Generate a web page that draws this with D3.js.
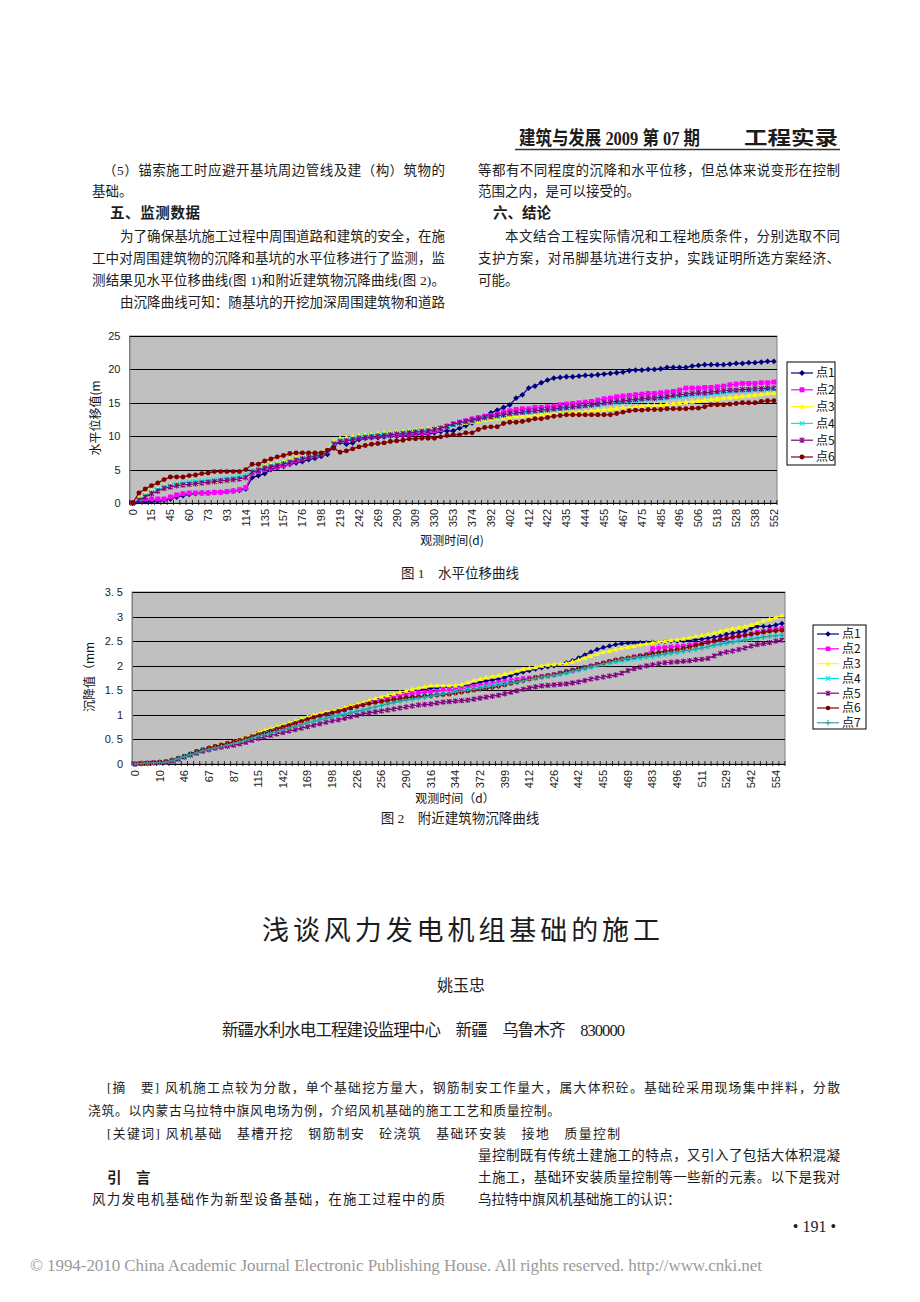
<!DOCTYPE html>
<html><head><meta charset="utf-8">
<script src="https://cdn.jsdelivr.net/npm/d3@7"></script>
<style>body{margin:0;background:#fff;}svg{display:block;}</style>
</head><body>
<svg id="page" width="920" height="1302"></svg>
<script>
// ---------------- DATA: Figure 1 (水平位移曲线) ----------------
const names1 = ["点1","点2","点3","点4","点5","点6"];
const xTicks1 = ["0","15","45","60","73","93","114","135","157","176","198","219","242","269","290","309","330","353","374","392","402","412","422","435","444","455","467","475","485","496","506","518","528","538","552"];
const yTicks1 = [0,5,10,15,20,25];
const f1_p1 = [0,0.2,0.2,0.2,0.3,0.4,0.6,0.9,1.1,1.3, 1.4,1.5,1.5,1.6,1.6,1.7,1.8,1.9,2.1,3.8, 4.1,4.4,5.0,5.3,5.5,5.8,6.0,6.2,6.5,6.7, 7.0,7.3,8.6,9.1,8.8,9.0,9.5,9.7,9.8,9.8, 9.9,10.0,10.0,10.1,10.2,10.2,10.3,10.3,10.5,10.7, 10.8,10.8,11.2,11.6,12.0,12.4,12.9,13.5,13.9,14.3, 14.7,15.7,16.2,17.2,17.5,18.0,18.4,18.7,18.8,18.9, 18.9,19.0,19.1,19.1,19.2,19.3,19.4,19.5,19.6,19.8, 19.9,19.9,20.0,20.0,20.1,20.3,20.3,20.3,20.3,20.5, 20.6,20.7,20.7,20.7,20.7,20.8,20.9,20.9,21.0,21.0, 21.1,21.2,21.2];
const f1_p2 = [0,0.5,0.6,0.6,0.6,0.6,0.9,1.2,1.4,1.5, 1.5,1.5,1.5,1.6,1.6,1.7,1.8,2.0,2.3,4.4, 4.7,5.0,5.2,5.4,5.6,5.9,6.3,6.6,6.9,7.1, 7.4,7.8,9.0,9.4,9.4,9.6,9.8,9.9,10.0,10.0, 10.1,10.1,10.2,10.3,10.3,10.4,10.5,10.6,10.8,11.0, 11.4,11.8,12.1,12.3,12.6,12.8,13.0,13.1,13.3,13.6, 13.8,14.0,14.1,14.1,14.3,14.3,14.4,14.5,14.7,14.8, 14.9,15.0,15.1,15.2,15.4,15.6,15.7,15.9,16.0,16.1, 16.2,16.3,16.4,16.4,16.5,16.6,16.7,16.9,17.2,17.2, 17.2,17.3,17.3,17.4,17.5,17.7,17.8,17.9,17.9,17.9, 18.0,18.0,18.1];
const f1_p3 = [0,0.8,1.3,1.8,2.2,2.5,2.7,2.8,2.8,2.9, 3.0,3.0,3.1,3.2,3.3,3.4,3.5,3.6,3.8,4.6, 5.3,5.6,5.8,6.0,6.2,6.5,6.8,7.0,7.2,7.4, 7.6,8.0,9.3,9.7,9.8,9.9,10.1,10.2,10.3,10.4, 10.5,10.5,10.6,10.7,10.8,10.9,11.0,11.1,11.2,11.3, 11.5,11.6,11.8,12.0,12.2,12.3,12.5,12.6,12.7,12.8, 12.9,13.0,13.0,13.1,13.1,13.2,13.3,13.4,13.4,13.5, 13.6,13.6,13.7,13.8,13.9,14.0,14.1,14.2,14.3,14.3, 14.4,14.5,14.6,14.6,14.7,14.8,14.9,15.0,15.1,15.2, 15.3,15.4,15.5,15.6,15.7,15.8,15.9,16.0,16.1,16.2, 16.3,16.4,16.5];
const f1_p4 = [0,0.6,1.1,1.6,2.0,2.4,2.6,2.8,3.0,3.1, 3.2,3.3,3.4,3.5,3.6,3.7,3.8,4.0,4.2,4.8, 5.1,5.4,5.6,5.8,6.0,6.2,6.5,6.7,6.9,7.1, 7.3,7.8,9.0,9.4,9.5,9.7,9.9,10.0,10.1,10.2, 10.3,10.3,10.4,10.5,10.6,10.7,10.8,10.9,11.0,11.2, 11.4,11.6,11.9,12.1,12.3,12.5,12.7,12.8,12.9,13.1, 13.3,13.4,13.5,13.6,13.7,13.8,13.9,14.0,14.1,14.2, 14.3,14.4,14.5,14.6,14.7,14.8,14.9,15.0,15.1,15.2, 15.3,15.4,15.4,15.5,15.6,15.7,15.8,15.9,16.0,16.1, 16.2,16.2,16.3,16.4,16.5,16.6,16.7,16.7,16.8,16.9, 16.9,17.0,17.0];
const f1_p5 = [0,0.4,0.9,1.4,1.8,2.2,2.4,2.6,2.7,2.8, 2.9,3.0,3.1,3.2,3.3,3.4,3.5,3.6,3.8,4.6, 4.9,5.2,5.4,5.6,5.8,6.1,6.4,6.6,6.8,7.0, 7.2,7.6,8.8,9.2,9.3,9.5,9.7,9.8,9.9,10.0, 10.1,10.2,10.3,10.4,10.5,10.6,10.7,10.8,11.0,11.2, 11.5,11.8,12.0,12.2,12.4,12.6,12.8,12.9,13.1,13.2, 13.4,13.5,13.6,13.7,13.8,13.9,14.0,14.1,14.2,14.3, 14.4,14.5,14.6,14.7,14.8,15.0,15.1,15.2,15.3,15.4, 15.5,15.6,15.7,15.7,15.8,15.9,16.1,16.2,16.3,16.4, 16.5,16.5,16.6,16.7,16.8,16.9,16.9,17.0,17.0,17.1, 17.1,17.2,17.2];
const f1_p6 = [0,1.5,2.1,2.6,3.0,3.5,3.9,3.9,3.9,4.1, 4.2,4.4,4.5,4.7,4.7,4.7,4.7,4.7,5.0,5.8, 5.8,6.3,6.6,6.9,7.1,7.4,7.5,7.5,7.5,7.5, 7.5,7.9,8.2,7.6,7.8,8.1,8.4,8.6,8.8,8.9, 9.0,9.2,9.3,9.4,9.6,9.6,9.7,9.7,9.7,9.9, 10.1,10.2,10.2,10.5,10.5,11.0,11.3,11.4,11.4,11.9, 12.1,12.1,12.2,12.4,12.6,12.6,12.8,13.0,13.1,13.2, 13.2,13.2,13.2,13.2,13.2,13.2,13.2,13.4,13.6,13.8, 13.9,13.9,14.0,14.0,14.0,14.1,14.1,14.1,14.1,14.2, 14.2,14.4,14.7,14.7,14.7,14.8,14.9,15.0,15.0,15.0, 15.2,15.3,15.3];

// ---------------- DATA: Figure 2 (附近建筑物沉降曲线) ----------------
const names2 = ["点1","点2","点3","点4","点5","点6","点7"];
const xTicks2 = ["0","10","46","67","87","115","142","169","198","226","256","290","316","344","372","399","412","426","442","455","469","483","496","511","529","542","554"];
const yTicks2 = [0,0.5,1,1.5,2,2.5,3,3.5];
const yTickText2 = ["0","0. 5","1","1. 5","2","2. 5","3","3. 5"];
const f2_p1 = [0,0.01,0.02,0.03,0.03,0.05,0.08,0.12,0.16,0.21, 0.26,0.3,0.33,0.36,0.39,0.42,0.45,0.49,0.54,0.59, 0.64,0.67,0.7,0.74,0.78,0.82,0.86,0.9,0.93,0.97, 1.0,1.03,1.06,1.09,1.13,1.17,1.2,1.24,1.28,1.32, 1.35,1.38,1.41,1.44,1.47,1.49,1.51,1.52,1.54,1.55, 1.56,1.56,1.57,1.58,1.6,1.63,1.66,1.69,1.71,1.73, 1.76,1.8,1.84,1.87,1.9,1.93,1.96,1.98,2.0,2.02, 2.06,2.1,2.16,2.22,2.28,2.33,2.37,2.4,2.43,2.45, 2.46,2.46,2.47,2.47,2.48,2.48,2.49,2.5,2.5,2.51, 2.52,2.53,2.54,2.56,2.58,2.6,2.64,2.66,2.68,2.7, 2.76,2.8,2.8,2.8,2.83,2.86];
const f2_p2 = [0,0.01,0.02,0.03,0.03,0.04,0.07,0.11,0.15,0.2, 0.25,0.29,0.32,0.35,0.38,0.41,0.44,0.47,0.51,0.55, 0.59,0.62,0.66,0.7,0.74,0.78,0.82,0.86,0.9,0.94, 0.97,1.0,1.03,1.06,1.1,1.14,1.18,1.21,1.25,1.28, 1.31,1.34,1.37,1.4,1.42,1.44,1.45,1.46,1.47,1.48, 1.5,1.5,1.52,1.53,1.55,1.58,1.6,1.62,1.64,1.66, 1.68,1.7,1.72,1.74,1.75,1.76,1.78,1.8,1.82,1.85, 1.88,1.9,1.93,1.96,1.99,2.02,2.05,2.08,2.1,2.13, 2.15,2.18,2.2,2.22,2.35,2.36,2.37,2.38,2.39,2.4, 2.42,2.44,2.46,2.48,2.5,2.52,2.55,2.58,2.6,2.62, 2.65,2.68,2.7,2.72,2.74,2.76];
const f2_p3 = [0,0.01,0.02,0.03,0.04,0.05,0.08,0.12,0.17,0.22, 0.27,0.3,0.34,0.37,0.4,0.43,0.46,0.5,0.55,0.6, 0.65,0.69,0.72,0.76,0.8,0.84,0.88,0.92,0.96,1.0, 1.03,1.06,1.08,1.11,1.15,1.19,1.22,1.26,1.3,1.34, 1.37,1.4,1.43,1.46,1.49,1.52,1.55,1.57,1.6,1.6, 1.6,1.6,1.6,1.62,1.66,1.7,1.73,1.76,1.78,1.8, 1.83,1.86,1.9,1.93,1.95,1.97,2.0,2.02,2.03,2.04, 2.05,2.08,2.12,2.16,2.2,2.24,2.28,2.3,2.33,2.36, 2.38,2.4,2.43,2.45,2.47,2.49,2.5,2.52,2.53,2.55, 2.57,2.6,2.62,2.64,2.67,2.7,2.73,2.76,2.78,2.8, 2.83,2.87,2.92,2.95,2.98,3.02];
const f2_p4 = [0,0.01,0.02,0.02,0.03,0.04,0.07,0.11,0.15,0.2, 0.24,0.28,0.31,0.34,0.37,0.4,0.43,0.46,0.5,0.54, 0.58,0.61,0.64,0.68,0.71,0.75,0.78,0.82,0.85,0.88, 0.91,0.94,0.97,1.0,1.02,1.05,1.07,1.1,1.13,1.16, 1.2,1.23,1.26,1.29,1.32,1.34,1.36,1.38,1.4,1.42, 1.44,1.45,1.47,1.49,1.51,1.53,1.56,1.58,1.6,1.62, 1.64,1.66,1.68,1.7,1.72,1.74,1.76,1.78,1.8,1.82, 1.85,1.88,1.91,1.94,1.97,2.0,2.03,2.05,2.07,2.09, 2.11,2.13,2.15,2.17,2.19,2.21,2.23,2.25,2.27,2.29, 2.31,2.33,2.36,2.38,2.41,2.44,2.47,2.49,2.51,2.53, 2.55,2.57,2.59,2.6,2.61,2.62];
const f2_p5 = [0,0.01,0.01,0.02,0.03,0.04,0.06,0.1,0.14,0.18, 0.22,0.26,0.29,0.32,0.34,0.36,0.38,0.41,0.44,0.48, 0.52,0.55,0.58,0.61,0.64,0.67,0.7,0.73,0.76,0.79, 0.82,0.85,0.88,0.9,0.93,0.96,0.99,1.02,1.04,1.06, 1.08,1.1,1.12,1.14,1.16,1.18,1.2,1.21,1.22,1.24, 1.26,1.27,1.28,1.29,1.3,1.32,1.34,1.36,1.38,1.4, 1.43,1.46,1.49,1.52,1.55,1.57,1.59,1.6,1.61,1.62, 1.63,1.65,1.67,1.7,1.73,1.75,1.77,1.79,1.81,1.85, 1.9,1.94,1.97,2.0,2.02,2.04,2.06,2.07,2.08,2.09, 2.1,2.12,2.13,2.15,2.2,2.25,2.28,2.3,2.33,2.36, 2.4,2.43,2.45,2.47,2.5,2.52];
const f2_p6 = [0,0.01,0.02,0.03,0.04,0.05,0.08,0.12,0.16,0.21, 0.26,0.29,0.33,0.36,0.39,0.42,0.45,0.48,0.52,0.56, 0.6,0.63,0.67,0.71,0.75,0.79,0.83,0.87,0.91,0.95, 0.98,1.01,1.04,1.07,1.1,1.14,1.17,1.2,1.23,1.25, 1.27,1.29,1.31,1.33,1.35,1.36,1.37,1.38,1.39,1.4, 1.41,1.42,1.44,1.46,1.48,1.5,1.52,1.54,1.56,1.58, 1.61,1.64,1.67,1.7,1.73,1.76,1.78,1.8,1.82,1.85, 1.88,1.91,1.94,1.97,2.0,2.03,2.06,2.09,2.12,2.14, 2.16,2.18,2.2,2.22,2.25,2.27,2.29,2.31,2.33,2.35, 2.38,2.41,2.44,2.47,2.5,2.53,2.56,2.58,2.6,2.62, 2.64,2.66,2.68,2.7,2.71,2.72];
const f2_p7 = [0,0.01,0.02,0.02,0.03,0.04,0.07,0.11,0.15,0.19, 0.23,0.27,0.3,0.33,0.36,0.39,0.42,0.45,0.49,0.53, 0.57,0.6,0.63,0.66,0.7,0.73,0.77,0.8,0.84,0.87, 0.9,0.93,0.96,0.99,1.01,1.04,1.07,1.1,1.13,1.16, 1.19,1.22,1.25,1.28,1.3,1.32,1.34,1.36,1.38,1.4, 1.42,1.44,1.46,1.48,1.5,1.52,1.54,1.56,1.58,1.6, 1.62,1.64,1.66,1.69,1.72,1.75,1.77,1.79,1.81,1.83, 1.86,1.89,1.92,1.95,1.98,2.01,2.04,2.07,2.1,2.13, 2.15,2.17,2.18,2.19,2.2,2.22,2.24,2.26,2.28,2.3, 2.32,2.34,2.36,2.39,2.42,2.44,2.46,2.48,2.5,2.52, 2.54,2.56,2.58,2.6,2.61,2.62];

// ---------------- STYLE ----------------
const COLORS = ["#000080","#ff00ff","#ffff00","#00e8e8","#800080","#800000","#3f9a9a"];
const MARKS  = ["diamond","square","triangle","x","star","circle","plus"];
const BODY = "'Liberation Serif','Noto Sans CJK SC',serif";
const CJK = "'Noto Sans CJK SC','Liberation Sans',sans-serif";
const SANS = "'Liberation Sans','Noto Sans CJK SC',sans-serif";

const svg = d3.select("#page");

function T(x, y, s, o = {}) {
  const t = svg.append("text").attr("x", x).attr("y", y).text(s)
    .attr("font-size", o.size || 13.5)
    .attr("font-family", o.font || BODY)
    .attr("fill", o.fill || "#1c1c1c");
  if (o.len) t.attr("textLength", o.len).attr("lengthAdjust", o.adj || "spacing");
  if (o.anchor) t.attr("text-anchor", o.anchor);
  if (o.weight) t.attr("font-weight", o.weight);
  return t;
}

function markerPath(type, x, y, s) {
  switch (type) {
    case "diamond": return `M${x},${y-s}L${x+s},${y}L${x},${y+s}L${x-s},${y}Z`;
    case "square": { const h = s*0.85; return `M${x-h},${y-h}H${x+h}V${y+h}H${x-h}Z`; }
    case "triangle": return `M${x},${y-s}L${x+s},${y+s*0.75}L${x-s},${y+s*0.75}Z`;
    case "circle": { const r = s*0.85; return `M${x-r},${y}A${r},${r} 0 1,0 ${x+r},${y}A${r},${r} 0 1,0 ${x-r},${y}Z`; }
    case "x": { const h = s*0.8; return `M${x-h},${y-h}L${x+h},${y+h}M${x-h},${y+h}L${x+h},${y-h}`; }
    case "star": { const h = s*0.8; return `M${x-h},${y-h}L${x+h},${y+h}M${x-h},${y+h}L${x+h},${y-h}M${x},${y-s}V${y+s}`; }
    case "plus": return `M${x-s},${y}H${x+s}M${x},${y-s}V${y+s}`;
  }
}
const stroked = t => t === "x" || t === "star" || t === "plus";

function drawChart(c) {
  const g = svg.append("g");
  const n = c.series[0].length;
  const x = d3.scaleBand().domain(d3.range(n)).range([c.left, c.right]);
  const y = d3.scaleLinear().domain([0, c.yMax]).range([c.bottom, c.top]);
  const cx = i => x(i) + x.bandwidth() / 2;

  g.append("rect").attr("x", c.left).attr("y", c.top)
    .attr("width", c.right - c.left).attr("height", c.bottom - c.top)
    .attr("fill", "#c0c0c0").attr("stroke", "#808080").attr("stroke-width", 1);

  g.selectAll("line.grid").data(c.yTicks.filter(v => v > 0)).join("line")
    .attr("x1", c.left).attr("x2", c.right)
    .attr("y1", d => Math.round(y(d)) + 0.5).attr("y2", d => Math.round(y(d)) + 0.5)
    .attr("stroke", "#000").attr("stroke-width", 1);

  const ya = d3.axisLeft(y).tickValues(c.yTicks).tickSize(0).tickPadding(9)
    .tickFormat((d, i) => c.yTickText ? c.yTickText[i] : String(d));
  const yg = g.append("g").attr("transform", `translate(${c.left},0)`).call(ya);
  yg.select(".domain").attr("stroke", "#808080");
  yg.selectAll("text").attr("font-family", SANS).attr("font-size", 11).attr("fill", "#222");

  const xa = d3.axisBottom(x).tickSize(0).tickPadding(0)
    .tickValues(d3.range(0, n, c.step).filter((d, k) => k < c.xTicks.length))
    .tickFormat(d => c.xTicks[d / c.step]);
  const xg = g.append("g").attr("transform", `translate(0,${c.bottom})`).call(xa);
  xg.select(".domain").remove();
  xg.selectAll("text").attr("font-family", SANS).attr("font-size", 11).attr("fill", "#222")
    .attr("text-anchor", "end").attr("dy", "0.35em")
    .attr("transform", "translate(0,6) rotate(-90)").attr("x", 0).attr("y", 0);
  g.append("line").attr("x1", c.left).attr("x2", c.right)
    .attr("y1", c.bottom + 0.5).attr("y2", c.bottom + 0.5).attr("stroke", "#000");
  g.selectAll("line.xt").data(d3.range(n + 1)).join("line")
    .attr("x1", i => c.left + i * x.step()).attr("x2", i => c.left + i * x.step())
    .attr("y1", c.bottom - 3).attr("y2", c.bottom + 2)
    .attr("stroke", "#000").attr("stroke-width", 0.8);

  const line = d3.line().x((d, i) => cx(i)).y(d => y(d));
  c.series.forEach((vals, k) => {
    const col = COLORS[k], mt = MARKS[k];
    const sg = g.append("g");
    sg.append("path").attr("d", line(vals)).attr("fill", "none")
      .attr("stroke", col).attr("stroke-width", 1.2);
    sg.selectAll("path.m").data(vals).join("path")
      .attr("d", (d, i) => markerPath(mt, cx(i), y(d), c.ms))
      .attr("fill", stroked(mt) ? "none" : col)
      .attr("stroke", stroked(mt) ? col : "none").attr("stroke-width", 1.1);
  });

  const L = c.legend;
  g.append("rect").attr("x", L.x).attr("y", L.y).attr("width", L.w).attr("height", L.h)
    .attr("fill", "#fff").attr("stroke", "#000").attr("stroke-width", 1);
  c.names.forEach((nm, k) => {
    const yy = L.y0 + k * L.dy;
    g.append("line").attr("x1", L.x + 4).attr("x2", L.x + 26).attr("y1", yy).attr("y2", yy)
      .attr("stroke", COLORS[k]).attr("stroke-width", 1.2);
    const mt = MARKS[k];
    g.append("path").attr("d", markerPath(mt, L.x + 15, yy, c.ms))
      .attr("fill", stroked(mt) ? "none" : COLORS[k])
      .attr("stroke", stroked(mt) ? COLORS[k] : "none").attr("stroke-width", 1.1);
    g.append("text").attr("x", L.x + 29).attr("y", yy).attr("dy", "0.36em")
      .attr("font-family", CJK).attr("font-size", 12).attr("fill", "#111").text(nm);
  });

  g.append("text").attr("transform", `translate(${c.yTitle.x},${c.yTitle.y}) rotate(-90)`)
    .attr("text-anchor", "middle").attr("dy", "0.35em")
    .attr("font-family", CJK).attr("font-size", 12).attr("fill", "#111").text(c.yTitle.t);
  g.append("text").attr("x", c.xTitle.x).attr("y", c.xTitle.y).attr("text-anchor", "middle")
    .attr("dy", "0.35em").attr("font-family", CJK).attr("font-size", 12).attr("fill", "#111")
    .text(c.xTitle.t);
}

// ---------------- PAGE TEXT ----------------
T(519, 145, "建筑与发展 2009 第 07 期", {size: 19, weight: "bold", len: 181, adj: "spacingAndGlyphs"});
T(744, 145, "工程实录", {size: 19, weight: "bold", len: 94, adj: "spacingAndGlyphs", font: CJK});
svg.append("line").attr("x1", 515).attr("x2", 840).attr("y1", 149.5).attr("y2", 149.5)
  .attr("stroke", "#333").attr("stroke-width", 1.6);

T(103, 175, "（5）锚索施工时应避开基坑周边管线及建（构）筑物的", {len: 342});
T(92, 196, "基础。");
T(110, 218, "五、监测数据", {size: 14.5, weight: "bold", len: 90, font: CJK});
T(120, 241, "为了确保基坑施工过程中周围道路和建筑的安全，在施", {len: 325});
T(92, 263, "工中对周围建筑物的沉降和基坑的水平位移进行了监测，监", {len: 353});
T(92, 285, "测结果见水平位移曲线(图 1)和附近建筑物沉降曲线(图 2)。", {len: 353});
T(120, 307, "由沉降曲线可知：随基坑的开挖加深周围建筑物和道路", {len: 325});

T(478, 175, "等都有不同程度的沉降和水平位移，但总体来说变形在控制", {len: 362});
T(478, 196, "范围之内，是可以接受的。");
T(493, 218, "六、结论", {size: 14.5, weight: "bold", font: CJK});
T(505, 241, "本文结合工程实际情况和工程地质条件，分别选取不同", {len: 335});
T(478, 263, "支护方案，对吊脚基坑进行支护，实践证明所选方案经济、", {len: 362});
T(478, 285, "可能。");

// ---------------- CHARTS ----------------
drawChart({
  series: [f1_p1, f1_p2, f1_p3, f1_p4, f1_p5, f1_p6], names: names1,
  left: 129.5, right: 777, top: 336, bottom: 503, yMax: 25, yTicks: yTicks1,
  xTicks: xTicks1, step: 3, ms: 2.9,
  legend: {x: 787, y: 362, w: 48, h: 103, y0: 373, dy: 16.8},
  yTitle: {x: 96, y: 418, t: "水平位移值(m"},
  xTitle: {x: 452, y: 541, t: "观测时间(d)"}
});
T(460, 578, "图 1　水平位移曲线", {size: 13.5, anchor: "middle"});

drawChart({
  series: [f2_p1, f2_p2, f2_p3, f2_p4, f2_p5, f2_p6, f2_p7], names: names2,
  left: 132, right: 785, top: 592, bottom: 764, yMax: 3.5, yTicks: yTicks2, yTickText: yTickText2,
  xTicks: xTicks2, step: 4, ms: 2.7,
  legend: {x: 813, y: 625, w: 53, h: 104, y0: 634, dy: 14.8},
  yTitle: {x: 90, y: 677, t: "沉降值（mm"},
  xTitle: {x: 455, y: 799, t: "观测时间（d）"}
});
T(460, 823, "图 2　附近建筑物沉降曲线", {size: 13.5, anchor: "middle"});

// ---------------- ARTICLE ----------------
T(461, 940, "浅谈风力发电机组基础的施工", {size: 27, anchor: "middle", len: 398, font: CJK});
T(461, 991, "姚玉忠", {size: 16, anchor: "middle", font: CJK});
T(222, 1036, "新疆水利水电工程建设监理中心　新疆　乌鲁木齐　830000", {size: 16.5, len: 403});
T(107, 1092, "[摘　要]  风机施工点较为分散，单个基础挖方量大，钢筋制安工作量大，属大体积砼。基础砼采用现场集中拌料，分散", {size: 12.8, len: 733});
T(88, 1115, "浇筑。以内蒙古乌拉特中旗风电场为例，介绍风机基础的施工工艺和质量控制。", {size: 12.8, len: 472});
T(107, 1138, "[关键词]  风机基础　基槽开挖　钢筋制安　砼浇筑　基础环安装　接地　质量控制", {size: 12.8, len: 513});
T(478, 1160, "量控制既有传统土建施工的特点，又引入了包括大体积混凝", {len: 362});
T(107, 1183, "引　言", {size: 14.5, weight: "bold", font: CJK});
T(478, 1182, "土施工，基础环安装质量控制等一些新的元素。以下是我对", {len: 362});
T(92, 1204, "风力发电机基础作为新型设备基础，在施工过程中的质", {len: 353});
T(478, 1204, "乌拉特中旗风机基础施工的认识：");
T(836, 1232, "• 191 •", {size: 16, anchor: "end"});
T(30, 1271, "© 1994-2010 China Academic Journal Electronic Publishing House. All rights reserved.    http://www.cnki.net", {size: 17, fill: "#9a9a9a", len: 732});
</script>
</body></html>
